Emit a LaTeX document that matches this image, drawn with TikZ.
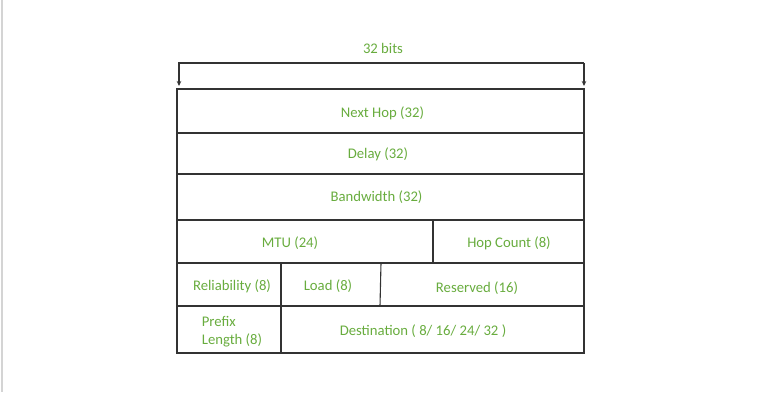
\documentclass[tikz,border=0pt]{standalone}
\usepackage{fontspec}
\setmainfont{Carlito}
\usetikzlibrary{arrows.meta}
\definecolor{txtgreen}{RGB}{104,172,62}
\definecolor{linegray}{RGB}{51,51,51}
\definecolor{bordergray}{RGB}{212,212,212}
\tikzset{
  lbl/.style={text=txtgreen, font=\fontsize{14.7}{18}\selectfont, inner sep=0pt, anchor=center},
  grid/.style={draw=linegray, line width=1.1pt},
  brk/.style={draw=linegray, line width=1.1pt, -{Stealth[length=5pt,width=4.5pt]}}
}
\begin{document}
\begin{tikzpicture}[x=1pt,y=-1pt]
\useasboundingbox (0,0) rectangle (768,392);
\fill[bordergray] (1.3,0) rectangle (3.3,392);
% bracket
\coordinate (bl) at (179,63);
\coordinate (br) at (584,63);
\coordinate (bla) at (179,86);
\coordinate (bra) at (584,86);
\draw[brk] (br) -- (bl) -- (bla);
\draw[brk] (br) -- (bra);
\node[lbl] (bits) at (383,48) {32 bits};
% table
\draw[grid] (177,89) rectangle (584,353);
\draw[grid] (177,133) -- (584,133);
\draw[grid] (177,174) -- (584,174);
\draw[grid] (177,220) -- (584,220);
\draw[grid] (177,263) -- (584,263);
\draw[grid] (177,306) -- (584,306);
\draw[grid] (433,220) -- (433,263);
\draw[grid] (281,263) -- (281,353);
\draw[grid] (381,263) -- (380,306);
% labels
\node[lbl] (nexthop) at (382.5,113) {Next Hop (32)};
\node[lbl] (delay) at (378,154) {Delay (32)};
\node[lbl] (bw) at (376.5,197) {Bandwidth (32)};
\node[lbl] (mtu) at (290,243) {MTU (24)};
\node[lbl] (hop) at (509,243) {Hop Count (8)};
\node[lbl] (rel) at (232,286) {Reliability (8)};
\node[lbl] (load) at (328,286) {Load (8)};
\node[lbl] (res) at (477,288) {Reserved (16)};
\node[lbl, align=left] (prefix) at (232,332) {Prefix\\Length (8)};
\node[lbl] (dest) at (423,331) {Destination ( 8/ 16/ 24/ 32 )};
\end{tikzpicture}
\end{document}
